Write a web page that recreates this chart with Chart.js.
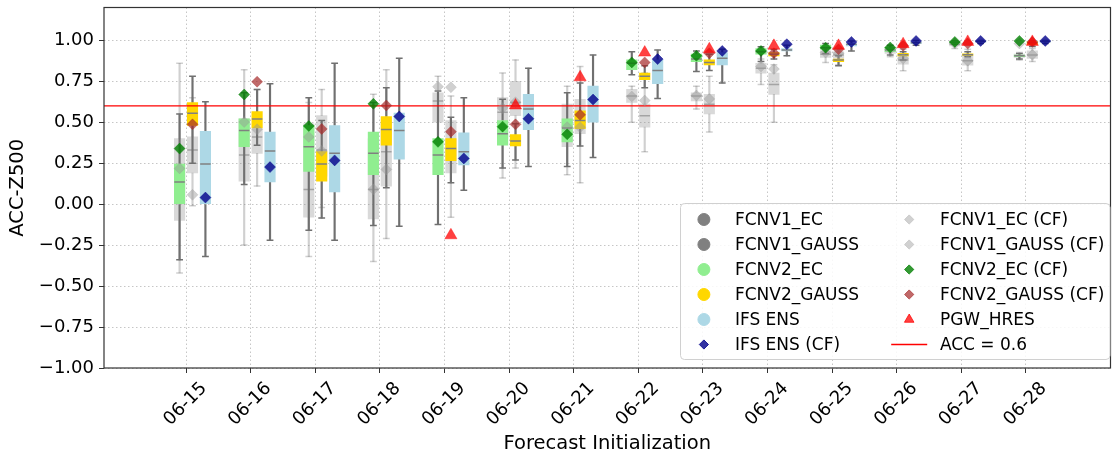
<!DOCTYPE html>
<html>
<head>
<meta charset="utf-8">
<script src="https://cdn.jsdelivr.net/npm/chart.js@4.4.1/dist/chart.umd.min.js"></script>
<style>
  html, body { margin: 0; padding: 0; background: #fff; }
  canvas { display: block; }
</style>
</head>
<body>
<canvas id="acc" width="1118" height="462"></canvas>
<script>
const dates = ['06-15', '06-16', '06-17', '06-18', '06-19', '06-20', '06-21',
  '06-22', '06-23', '06-24', '06-25', '06-26', '06-27', '06-28'];
const yTicks = [-1, -0.75, -0.5, -0.25, 0, 0.25, 0.5, 0.75, 1];
const accThreshold = 0.6;

// ensemble spread per initialization: [low whisker, q1, median, q3, high whisker]
const fcnv1Ec = [
  [-0.42, -0.10, 0.15, 0.40, 0.86], [-0.25, 0.14, 0.30, 0.52, 0.82],
  [-0.32, -0.08, 0.09, 0.49, 0.62], [-0.35, -0.09, 0.09, 0.40, 0.67],
  [0.35, 0.50, 0.63, 0.68, 0.78], [0.16, 0.40, 0.56, 0.65, 0.80],
  [0.18, 0.35, 0.47, 0.61, 0.72], [0.50, 0.62, 0.66, 0.70, 0.72],
  [0.58, 0.63, 0.66, 0.68, 0.72], [0.73, 0.80, 0.83, 0.86, 0.885],
  [0.865, 0.895, 0.915, 0.935, 0.955], [0.90, 0.92, 0.935, 0.95, 0.965],
  [0.95, 0.965, 0.975, 0.985, 0.995], [0.88, 0.895, 0.905, 0.915, 0.925]
];
const fcnv1Gauss = [
  [-0.01, 0.19, 0.33, 0.41, 0.65], [0.11, 0.31, 0.41, 0.46, 0.70],
  [-0.02, 0.17, 0.33, 0.54, 0.70], [-0.21, 0.11, 0.32, 0.50, 0.82],
  [-0.08, 0.19, 0.33, 0.51, 0.66], [0.22, 0.54, 0.62, 0.75, 0.88],
  [0.13, 0.43, 0.50, 0.64, 0.84], [0.32, 0.47, 0.54, 0.61, 0.80],
  [0.44, 0.55, 0.61, 0.67, 0.78], [0.50, 0.67, 0.73, 0.80, 0.85],
  [0.85, 0.89, 0.91, 0.93, 0.95], [0.814, 0.854, 0.88, 0.907, 0.945],
  [0.814, 0.848, 0.875, 0.915, 0.945], [0.87, 0.889, 0.91, 0.936, 0.95]
];
const fcnv2Ec = [
  [-0.34, 0.00, 0.135, 0.245, 0.55], [0.12, 0.35, 0.45, 0.52, 0.68],
  [-0.16, 0.20, 0.35, 0.48, 0.65], [-0.13, 0.18, 0.31, 0.44, 0.62],
  [-0.125, 0.18, 0.30, 0.40, 0.69], [0.22, 0.36, 0.43, 0.51, 0.64],
  [0.23, 0.38, 0.465, 0.52, 0.68], [0.79, 0.82, 0.86, 0.88, 0.93],
  [0.81, 0.87, 0.885, 0.915, 0.935], [0.87, 0.915, 0.93, 0.95, 0.96],
  [0.92, 0.945, 0.955, 0.97, 0.98], [0.91, 0.93, 0.94, 0.955, 0.97],
  [0.975, 0.982, 0.988, 0.992, 0.996], [0.885, 0.90, 0.905, 0.91, 0.92]
];
const fcnv2Gauss = [
  [0.25, 0.48, 0.555, 0.62, 0.78], [0.36, 0.465, 0.52, 0.565, 0.70],
  [-0.085, 0.14, 0.245, 0.32, 0.51], [0.10, 0.36, 0.455, 0.535, 0.71],
  [0.13, 0.265, 0.34, 0.40, 0.53], [0.27, 0.355, 0.385, 0.425, 0.49],
  [0.355, 0.46, 0.51, 0.57, 0.74], [0.71, 0.76, 0.78, 0.80, 0.845],
  [0.815, 0.85, 0.865, 0.88, 0.915], [0.885, 0.905, 0.915, 0.925, 0.945],
  [0.845, 0.87, 0.88, 0.885, 0.905], [0.88, 0.905, 0.911, 0.92, 0.93],
  [0.90, 0.907, 0.911, 0.918, 0.93], [0.962, 0.975, 0.985, 0.99, 0.995]
];
const ifsEns = [
  [-0.32, 0.00, 0.245, 0.445, 0.625], [-0.22, 0.135, 0.325, 0.44, 0.735],
  [-0.22, 0.075, 0.31, 0.48, 0.86], [-0.135, 0.275, 0.45, 0.555, 0.89],
  [0.085, 0.24, 0.32, 0.435, 0.65], [0.23, 0.455, 0.58, 0.67, 0.83],
  [0.285, 0.50, 0.60, 0.72, 0.91], [0.645, 0.735, 0.815, 0.88, 0.94],
  [0.74, 0.85, 0.89, 0.925, 0.945], [0.905, 0.935, 0.94, 0.95, 0.97],
  [0.935, 0.965, 0.975, 0.98, 0.995], [0.97, 0.98, 0.985, 0.99, 0.998],
  [0.98, 0.988, 0.992, 0.995, 0.999], [0.98, 0.988, 0.992, 0.995, 0.999]
];

// control forecasts and the deterministic run
const fcnv1EcCf = [0.218, 0.501, 0.41, 0.091, 0.717, 0.586, 0.47, 0.657, 0.663, 0.84, 0.925, 0.945, 0.98, 0.98];
const fcnv1GaussCf = [0.057, 0.457, 0.325, 0.212, 0.713, 0.622, 0.469, 0.632, 0.642, 0.824, 0.92, 0.889, 0.875, 0.911];
const fcnv2EcCf = [0.339, 0.669, 0.477, 0.612, 0.38, 0.473, 0.426, 0.865, 0.905, 0.935, 0.955, 0.956, 0.99, 0.996];
const fcnv2GaussCf = [0.487, 0.747, 0.459, 0.602, 0.442, 0.487, 0.545, 0.865, 0.921, 0.921, 0.945, 0.966, 0.98, 0.99];
const ifsEnsCf = [0.04, 0.226, 0.267, 0.535, 0.279, 0.521, 0.638, 0.885, 0.935, 0.976, 0.99, 0.996, 0.996, 0.996];
const pgwHres = [null, null, null, null, -0.19, 0.602, 0.774, 0.925, 0.945, 0.966, 0.966, 0.976, 0.99, 0.99];

const X_MIN = -1.27, X_MAX = 14.31;
const FONT = "'DejaVu Sans', sans-serif";

const boxSeries = [
  { label: 'FCNV1_EC', stats: fcnv1Ec, shift: -0.1, fill: 'rgba(128,128,128,0.3)',
    whisker: 'rgba(120,120,120,0.35)', median: 'rgba(120,120,120,0.55)', key: '#808080' },
  { label: 'FCNV1_GAUSS', stats: fcnv1Gauss, shift: 0.1, fill: 'rgba(128,128,128,0.3)',
    whisker: 'rgba(120,120,120,0.35)', median: 'rgba(120,120,120,0.55)', key: '#808080' },
  { label: 'FCNV2_EC', stats: fcnv2Ec, shift: -0.1, fill: '#90ee90',
    whisker: '#707070', median: '#808080', key: '#90ee90' },
  { label: 'FCNV2_GAUSS', stats: fcnv2Gauss, shift: 0.1, fill: '#ffd700',
    whisker: '#707070', median: '#808080', key: '#ffd700' },
  { label: 'IFS ENS', stats: ifsEns, shift: 0.3, fill: '#add8e6',
    whisker: '#707070', median: '#808080', key: '#add8e6' }
];

const markerSeries = [
  { label: 'FCNV1_EC (CF)', values: fcnv1EcCf, shift: -0.1, style: 'rectRot', radius: 5.5, color: 'rgba(150,150,150,0.45)' },
  { label: 'FCNV1_GAUSS (CF)', values: fcnv1GaussCf, shift: 0.1, style: 'rectRot', radius: 5.5, color: 'rgba(150,150,150,0.45)' },
  { label: 'FCNV2_EC (CF)', values: fcnv2EcCf, shift: -0.1, style: 'rectRot', radius: 5.5, color: 'rgba(0,128,0,0.8)' },
  { label: 'FCNV2_GAUSS (CF)', values: fcnv2GaussCf, shift: 0.1, style: 'rectRot', radius: 5.5, color: 'rgba(165,42,42,0.7)' },
  { label: 'IFS ENS (CF)', values: ifsEnsCf, shift: 0.3, style: 'rectRot', radius: 5.5, color: 'rgba(0,0,139,0.8)' },
  { label: 'PGW_HRES', values: pgwHres, shift: 0.1, style: 'triangle', radius: 7, color: 'rgba(255,0,0,0.75)' }
];

const datasets = [];

boxSeries.forEach(s => {
  const at = i => i + s.shift;
  datasets.push({
    type: 'bar', label: s.label + ' whiskers', grouped: false, barThickness: 1.5,
    backgroundColor: s.whisker, borderWidth: 0,
    data: s.stats.flatMap((b, i) => [{ x: at(i), y: [b[0], b[1]] }, { x: at(i), y: [b[3], b[4]] }])
  });
  datasets.push({
    type: 'scatter', label: s.label + ' caps', pointStyle: 'line', pointRadius: 3.4,
    pointBorderWidth: 1.5, pointBorderColor: s.whisker,
    data: s.stats.flatMap((b, i) => [{ x: at(i), y: b[0] }, { x: at(i), y: b[4] }])
  });
  datasets.push({
    type: 'bar', label: s.label, grouped: false, barThickness: 10.5,
    backgroundColor: s.fill, borderWidth: 0,
    data: s.stats.map((b, i) => ({ x: at(i), y: [b[1], b[3]] }))
  });
  datasets.push({
    type: 'scatter', label: s.label + ' median', pointStyle: 'line', pointRadius: 5.25,
    pointBorderWidth: 1.5, pointBorderColor: s.median,
    data: s.stats.map((b, i) => ({ x: at(i), y: b[2] }))
  });
});

datasets.push({
  type: 'line', label: 'ACC = 0.6', borderColor: '#ff0000', borderWidth: 1.3,
  pointRadius: 0, data: [{ x: X_MIN, y: accThreshold }, { x: X_MAX, y: accThreshold }]
});

markerSeries.forEach(m => {
  datasets.push({
    type: 'scatter', label: m.label, pointStyle: m.style, pointRadius: m.radius,
    backgroundColor: m.color, borderColor: m.color, pointBorderWidth: 0.5,
    data: m.values.map((v, i) => ({ x: i + m.shift, y: v })).filter(p => p.y !== null)
  });
});

// paint in array order (later datasets on top)
datasets.forEach((d, i) => { d.order = -i; });

const legendRows = [
  ...boxSeries.map(s => ({ label: s.label, kind: 'circle', color: s.key })),
  { label: 'IFS ENS (CF)', kind: 'rectRot', color: 'rgba(0,0,139,0.8)' },
  ...markerSeries.filter(m => m.label !== 'IFS ENS (CF)').map(m => ({
    label: m.label, kind: m.style, color: m.style === 'rectRot' && m.label.startsWith('FCNV1') ? 'rgba(190,190,190,0.7)' : m.color
  })),
  { label: 'ACC = 0.6', kind: 'line', color: '#ff0000' }
];

const frameAndLegend = {
  id: 'frameAndLegend',
  afterDraw(chart) {
    const { ctx, chartArea: a } = chart;
    ctx.save();
    ctx.strokeStyle = '#333';
    ctx.lineWidth = 1.2;
    ctx.strokeRect(a.left, a.top, a.right - a.left, a.bottom - a.top);

    const w = 429.5, h = 156;
    const lx = a.right - 0.5 - w, ly = a.bottom - 8.5 - h;
    ctx.beginPath();
    ctx.roundRect(lx, ly, w, h, 4);
    ctx.fillStyle = 'rgba(255,255,255,0.85)';
    ctx.fill();
    ctx.strokeStyle = '#d0d0d0';
    ctx.lineWidth = 1;
    ctx.stroke();

    ctx.font = '17px ' + FONT;
    ctx.textBaseline = 'middle';
    ctx.textAlign = 'left';
    legendRows.forEach((row, i) => {
      const col = Math.floor(i / 6);
      const y = ly + 16 + (i % 6) * 25;
      const mx = lx + (col ? 228.7 : 23.4);
      const tx = lx + (col ? 259.4 : 54.4);
      ctx.fillStyle = row.color;
      ctx.strokeStyle = row.color;
      if (row.kind === 'line') {
        ctx.lineWidth = 1.3;
        ctx.beginPath();
        ctx.moveTo(mx - 18, y);
        ctx.lineTo(mx + 18, y);
        ctx.stroke();
      } else {
        const radius = row.kind === 'circle' ? 6 : row.kind === 'triangle' ? 5.5 : 4.6;
        Chart.helpers.drawPoint(ctx, { pointStyle: row.kind, radius, rotation: 0, borderWidth: 0.5 }, mx, y);
      }
      ctx.fillStyle = '#000';
      ctx.fillText(row.label, tx, y + 1);
    });
    ctx.restore();
  }
};

const fmt = v => (v < 0 ? '\u2212' : '') + Math.abs(v).toFixed(2);

new Chart(document.getElementById('acc'), {
  type: 'scatter',
  data: { datasets },
  options: {
    responsive: false,
    animation: false,
    events: [],
    layout: { padding: { top: 5, right: 1, left: 0, bottom: 0 } },
    plugins: { legend: { display: false }, tooltip: { enabled: false } },
    scales: {
      x: {
        type: 'linear', min: X_MIN, max: X_MAX, offset: false,
        afterBuildTicks: scale => { scale.ticks = dates.map((d, i) => ({ value: i })); },
        afterFit: scale => { scale.height = 94; scale.paddingLeft = 0; scale.paddingRight = 0; },
        ticks: {
          callback: v => dates[v], autoSkip: false, minRotation: 45, maxRotation: 45,
          labelOffset: 18, padding: 5, color: '#000', font: { family: FONT, size: 18 }
        },
        grid: { offset: false, color: '#b8b8b8', lineWidth: 0.8, tickLength: 5, tickColor: '#333', tickWidth: 1 },
        border: { display: false, dash: [1.5, 2.5] },
        title: {
          display: true, text: 'Forecast Initialization', color: '#000',
          font: { family: FONT, size: 19.5 }, padding: { top: 0, bottom: 6 }
        }
      },
      y: {
        type: 'linear', min: -1, max: 1.2, beginAtZero: false,
        afterBuildTicks: scale => { scale.ticks = yTicks.map(v => ({ value: v })); },
        afterFit: scale => { scale.width = 104; scale.paddingTop = 0; scale.paddingBottom = 0; },
        ticks: { callback: v => fmt(v), padding: 5, color: '#000', font: { family: FONT, size: 18 } },
        grid: { color: '#b8b8b8', lineWidth: 0.8, tickLength: 5, tickColor: '#333', tickWidth: 1 },
        border: { display: false, dash: [1.5, 2.5] },
        title: {
          display: true, text: 'ACC-Z500', color: '#000',
          font: { family: FONT, size: 19.5 }, padding: { top: 6, bottom: 0 }
        }
      }
    }
  },
  plugins: [frameAndLegend]
});
</script>
</body>
</html>
